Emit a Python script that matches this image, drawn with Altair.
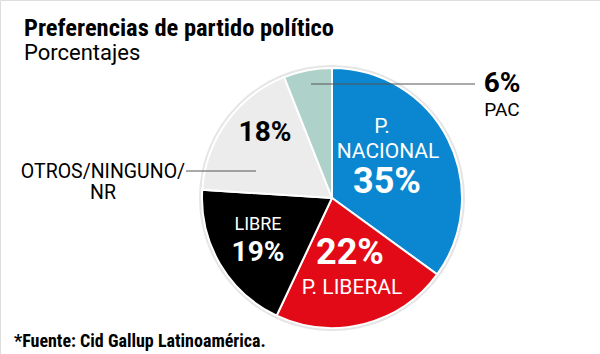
import altair as alt
import pandas as pd

# Data
parties = ["P. NACIONAL", "P. LIBERAL", "LIBRE", "OTROS/NINGUNO/NR", "PAC"]
values = [35, 22, 19, 18, 6]
colors = ["#0a87d0", "#e30a17", "#000000", "#ececec", "#aed2c9"]

title_text = "Preferencias de partido político"
subtitle_text = "Porcentajes"
source_text = "*Fuente: Cid Gallup Latinoamérica."

FONT_C = "Roboto Condensed"
FONT = "Roboto"

df = pd.DataFrame({"party": parties, "value": values, "order": list(range(len(parties)))})
one = pd.DataFrame({"k": [0]})

CX, CY, R = 332, 198, 130

shadow = alt.Chart(one).mark_arc(
    outerRadius=R + 3, color="#dedede", opacity=0.8
).encode(theta=alt.value(6.2832), x=alt.value(CX), y=alt.value(CY))

pie = alt.Chart(df).mark_arc(
    outerRadius=R, stroke="white", strokeWidth=2
).encode(
    theta=alt.Theta("value:Q", stack=True),
    color=alt.Color("party:N", scale=alt.Scale(domain=parties, range=colors), legend=None),
    order=alt.Order("order:Q"),
    x=alt.value(CX),
    y=alt.value(CY),
)


def txt(t, x, y, size, weight="normal", color="black", align="center", baseline="middle", font=FONT):
    return alt.Chart(one).mark_text(
        text=t, font=font, fontSize=size, fontWeight=weight, color=color,
        align=align, baseline=baseline
    ).encode(x=alt.value(x), y=alt.value(y))


def rule(x1, x2, y):
    return alt.Chart(one).mark_rule(color="#555555", strokeWidth=1).encode(
        x=alt.value(x1), x2=alt.value(x2), y=alt.value(y)
    )


layers = [
    shadow,
    pie,
    rule(311, 475, 84),
    rule(186, 256, 171),
    txt(title_text, 24, 36, 24.5, "bold", align="left", baseline="alphabetic", font=FONT_C),
    txt(subtitle_text, 24, 60, 22, align="left", baseline="alphabetic"),
    txt(source_text, 14, 347, 18, "bold", align="left", baseline="alphabetic", font=FONT_C),
    txt("P.", 382, 127, 21, color="white"),
    txt("NACIONAL", 388, 152, 21, color="white"),
    txt(f"{values[0]}%", 387, 182, 36, "bold", color="white"),
    txt(f"{values[1]}%", 350, 253, 36, "bold", color="white"),
    txt("P. LIBERAL", 352, 288, 21, color="white"),
    txt("LIBRE", 258, 225, 18, color="white"),
    txt(f"{values[2]}%", 258, 253, 28, "bold", color="white"),
    txt(f"{values[3]}%", 265, 133, 28, "bold"),
    txt("OTROS/NINGUNO/", 103, 172, 19.5),
    txt("NR", 103, 193, 19.5),
    txt(f"{values[4]}%", 502, 84, 28, "bold"),
    txt("PAC", 502, 110, 19),
]

chart = alt.layer(*layers).properties(
    width=600, height=354, padding=0, autosize=alt.AutoSizeParams(type="none")
).configure_view(stroke=None).configure(background="white")

chart.save("out.html", embed_options={"renderer": "svg", "actions": False})
